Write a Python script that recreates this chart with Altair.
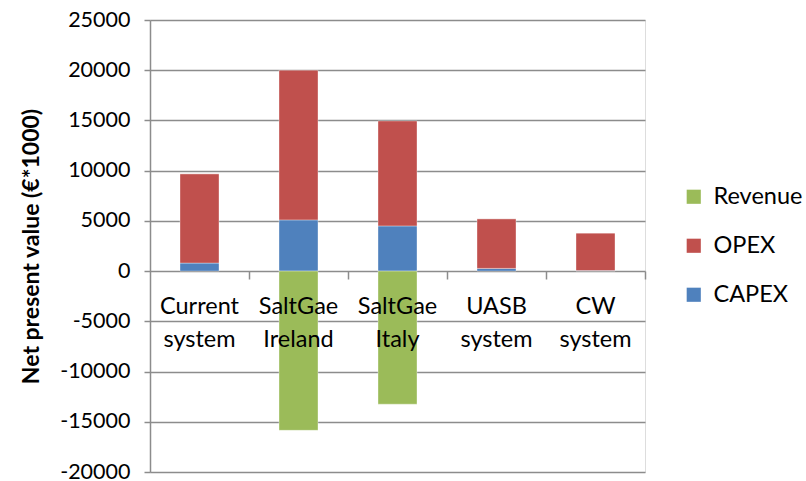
import altair as alt
import pandas as pd

categories = ["Current system", "SaltGae Ireland", "SaltGae Italy", "UASB system", "CW system"]
capex = [800, 5100, 4500, 270, 50]
opex = [8900, 14900, 10450, 4950, 3750]
revenue = [0, -15850, -13250, 0, 0]

series_names = ["Revenue", "OPEX", "CAPEX"]
series_colors = ["#9BBB59", "#C0504D", "#4F81BD"]
stack_order = {"CAPEX": 0, "OPEX": 1, "Revenue": 2}

rows = []
for i, c in enumerate(categories):
    rows.append({"cat": c, "series": "CAPEX", "value": capex[i]})
    rows.append({"cat": c, "series": "OPEX", "value": opex[i]})
    rows.append({"cat": c, "series": "Revenue", "value": revenue[i]})
df = pd.DataFrame(rows)
df["ord"] = df["series"].map(stack_order)

FONT = "Lato"
GRID = "#8C8C8C"

bars = alt.Chart(df).mark_bar(size=39, stroke="white", strokeWidth=0.6, strokeOpacity=0.6).encode(
    x=alt.X("cat:N", sort=categories,
            scale=alt.Scale(paddingInner=0, paddingOuter=0),
            axis=alt.Axis(title=None, orient="bottom", offset=-201, domain=False,
                          ticks=True, tickSize=8, tickColor=GRID, tickWidth=1.5,
                          bandPosition=1, zindex=1,
                          labelExpr="split(datum.label, ' ')", labelAngle=0,
                          labelFontSize=23.5, labelFont=FONT, labelColor="black",
                          labelLineHeight=33, labelPadding=15, labelBaseline="top")),
    y=alt.Y("value:Q", stack="zero",
            scale=alt.Scale(domain=[-20000, 25000], nice=False, zero=False),
            axis=alt.Axis(title="Net present value (€*1000)", values=list(range(-20000, 25001, 5000)),
                          labelExpr="toString(datum.value)",
                          labelFontSize=21.5, labelFont=FONT, labelColor="black",
                          labelPadding=14, tickSize=6, tickColor=GRID, tickWidth=1.5,
                          domainColor=GRID, domainWidth=1.5,
                          grid=True, gridColor=GRID, gridWidth=1.5,
                          titleFont=FONT, titleFontSize=23, titleFontWeight="bold",
                          titleColor="black", titlePadding=16)),
    color=alt.Color("series:N",
                    scale=alt.Scale(domain=series_names, range=series_colors),
                    legend=alt.Legend(title=None, orient="none", legendX=532, legendY=165,
                                      symbolType="square", symbolSize=200,
                                      symbolStrokeWidth=0,
                                      labelFont=FONT, labelFontSize=23.5, labelColor="black",
                                      rowPadding=24, labelOffset=8)),
    order=alt.Order("ord:Q"),
)

chart = bars.properties(
    width=495, height=452,
    autosize=alt.AutoSizeParams(type="none"),
    padding={"left": 150, "top": 20, "right": 161, "bottom": 9},
).configure_view(stroke=None).configure(background="white")

chart.save("out.html", embed_options={"renderer": "svg", "actions": False})
